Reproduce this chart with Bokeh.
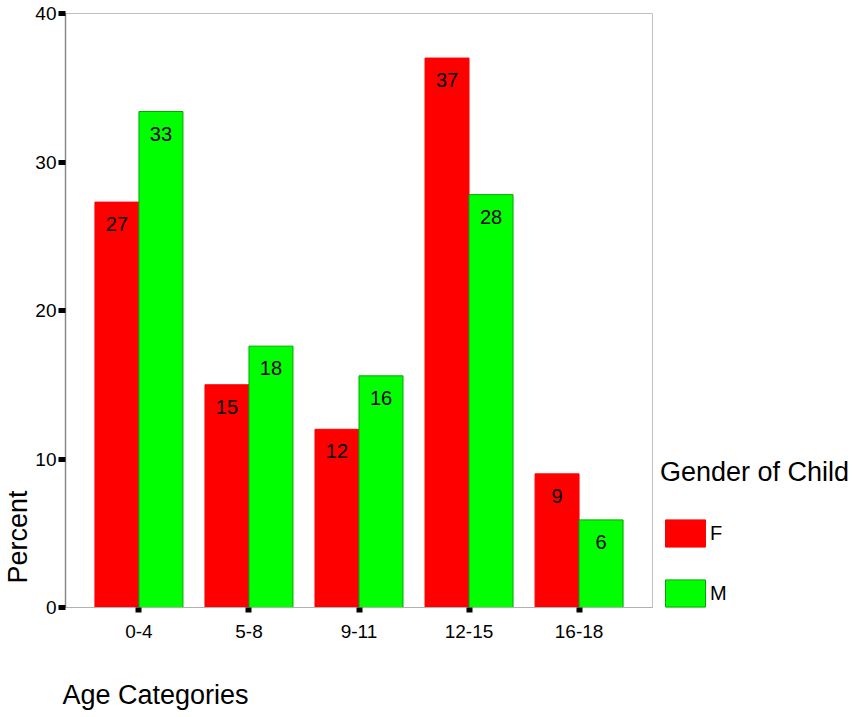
from bokeh.plotting import figure
from bokeh.models import (FactorRange, Range1d, ColumnDataSource, FixedTicker,
                          Legend, LegendItem, Title)
from bokeh.transform import dodge
from bokeh.core.properties import value
from bokeh.embed import file_html
from bokeh.resources import INLINE

# ---- data ----
categories = ["0-4", "5-8", "9-11", "12-15", "16-18"]
female_pct = [27.3, 15.0, 12.0, 37.0, 9.0]
male_pct = [33.4, 17.6, 15.6, 27.8, 5.9]
y_ticks = [0, 10, 20, 30, 40]
series_names = ["F", "M"]
legend_title = "Gender of Child"
x_title = "Age Categories"
y_title = "Percent"

FONT = "Liberation Sans"
RED = "#ff0000"
GREEN = "#00ff00"

src = ColumnDataSource(dict(
    cat=categories,
    F=female_pct,
    M=male_pct,
    F_lbl=[str(round(v)) for v in female_pct],
    M_lbl=[str(round(v)) for v in male_pct],
))

p = figure(
    x_range=FactorRange(factors=categories, range_padding=0.1675,
                        range_padding_units="absolute"),
    y_range=Range1d(0, 40),
    frame_width=587, frame_height=594,
    output_backend="svg", toolbar_location=None,
    min_border_left=65, min_border_top=13,
    min_border_right=206, min_border_bottom=110,
)
p.title.visible = False

rF = p.vbar(x=dodge("cat", -0.2, range=p.x_range), top="F", width=0.4,
            source=src, fill_color=RED, line_color=RED, line_width=1)
rM = p.vbar(x=dodge("cat", 0.2, range=p.x_range), top="M", width=0.4,
            source=src, fill_color=GREEN, line_color="#00a800", line_width=1)

for name, r_off in (("F", -0.2), ("M", 0.2)):
    p.text(x=dodge("cat", r_off, range=p.x_range), y=name, text=name + "_lbl",
           source=src, text_align="center", text_baseline="top", y_offset=15,
           text_font=value(FONT), text_font_size="20px", text_color="black")

# grids / outline
p.xgrid.grid_line_color = None
p.ygrid.grid_line_color = None
p.outline_line_color = "#c0c0c0"
p.background_fill_color = "white"
p.border_fill_color = "white"

# x axis
xa = p.xaxis[0]
xa.axis_line_color = "#b0b0b0"
xa.major_tick_line_color = "black"
xa.major_tick_line_width = 6
xa.major_tick_out = 5
xa.major_tick_in = 0
xa.minor_tick_line_color = None
xa.major_label_standoff = 12
xa.major_label_text_font = FONT
xa.major_label_text_font_size = "19px"
xa.major_label_text_color = "black"

# y axis
ya = p.yaxis[0]
ya.ticker = FixedTicker(ticks=y_ticks)
ya.axis_line_color = "#8a8a8a"
ya.axis_line_width = 1.5
ya.major_tick_line_color = "black"
ya.major_tick_line_width = 5
ya.major_tick_out = 7
ya.major_tick_in = 0
ya.minor_tick_line_color = None
ya.major_label_standoff = 2
ya.axis_label_standoff = 0
ya.major_label_text_font = FONT
ya.major_label_text_font_size = "19px"
ya.major_label_text_color = "black"

# axis titles (SPSS-style, aligned to the start rather than centred)
p.add_layout(Title(text=x_title, align="left", offset=-3, standoff=75,
                   text_font=FONT, text_font_size="27px",
                   text_font_style="normal", text_color="black"), "below")
p.add_layout(Title(text=y_title, align="left", offset=24, standoff=0,
                   text_font=FONT, text_font_size="27px",
                   text_font_style="normal", text_color="black"), "left")

legend = Legend(
    items=[LegendItem(label=series_names[0], renderers=[rF]),
           LegendItem(label=series_names[1], renderers=[rM])],
    location=(8, -3), orientation="vertical",
    title=legend_title, title_text_font=FONT, title_text_font_size="27px",
    title_text_font_style="normal", title_text_color="black",
    title_standoff=28,
    glyph_width=50, glyph_height=34, label_standoff=0, spacing=26,
    padding=0, margin=0, border_line_color=None, background_fill_alpha=0,
    label_text_font=FONT, label_text_font_size="20px",
    label_text_color="black",
)
p.add_layout(legend, "right")

open("out.html", "w").write(file_html(p, INLINE))
